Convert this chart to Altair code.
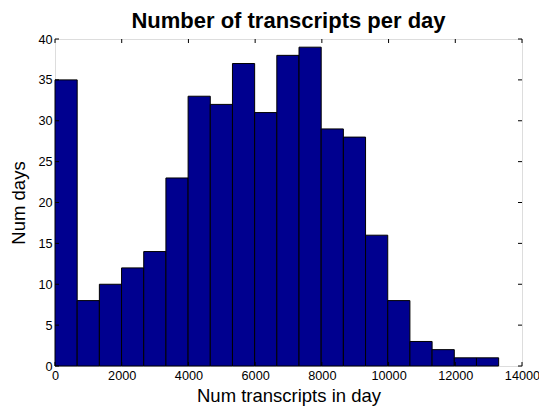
import altair as alt
import pandas as pd

# histogram data
counts = [35, 8, 10, 12, 14, 23, 33, 32, 37, 31, 38, 39, 29, 28, 16, 8, 3, 2, 1, 1]
bin_lo = [0, 665, 1330, 1995, 2660, 3325, 3990, 4655, 5320, 5985,
          6650, 7315, 7980, 8645, 9310, 9975, 10640, 11305, 11970, 12635]
bin_hi = [665, 1330, 1995, 2660, 3325, 3990, 4655, 5320, 5985, 6650,
          7315, 7980, 8645, 9310, 9975, 10640, 11305, 11970, 12635, 13300]
x_ticks = [0, 2000, 4000, 6000, 8000, 10000, 12000, 14000]
y_ticks = [0, 5, 10, 15, 20, 25, 30, 35, 40]

W, H = 467, 327
FONT = "Liberation Sans"

bars_df = pd.DataFrame({"lo": bin_lo, "hi": bin_hi, "n": counts})
xt_df = pd.DataFrame({"t": x_ticks})
yt_df = pd.DataFrame({"t": y_ticks})

xscale = alt.Scale(domain=[0, 14000], nice=False, zero=False)
yscale = alt.Scale(domain=[0, 40], nice=False)

bars = alt.Chart(bars_df).mark_rect(
    fill="#00008F", stroke="black", strokeWidth=1
).encode(
    x=alt.X("lo:Q", scale=xscale, title="Num transcripts in day",
            axis=alt.Axis(values=x_ticks, format="d", domain=False, ticks=False,
                          grid=False, labelFont=FONT, labelFontSize=12.7,
                          labelColor="black", labelPadding=3,
                          titleFont=FONT, titleFontSize=18.5, titleFontWeight="normal",
                          titleColor="black", titlePadding=5,
                          labelFlush=False)),
    x2="hi:Q",
    y=alt.Y("n:Q", scale=yscale, title="Num days",
            axis=alt.Axis(values=y_ticks, domain=False, ticks=False, grid=False,
                          labelFont=FONT, labelFontSize=12.7, labelColor="black",
                          labelPadding=3, titleFont=FONT, titleFontSize=18.5,
                          titleFontWeight="normal", titleColor="black",
                          titlePadding=9, labelFlush=False)),
    y2=alt.datum(0),
)

tl = 4
xb = alt.Chart(xt_df).mark_rule(color="black", strokeWidth=1).encode(
    x=alt.X("t:Q", scale=xscale), y=alt.value(H), y2=alt.value(H - tl))
xtop = alt.Chart(xt_df).mark_rule(color="black", strokeWidth=1).encode(
    x=alt.X("t:Q", scale=xscale), y=alt.value(0), y2=alt.value(tl))
yl = alt.Chart(yt_df).mark_rule(color="black", strokeWidth=1).encode(
    y=alt.Y("t:Q", scale=yscale), x=alt.value(0), x2=alt.value(tl))
yr = alt.Chart(yt_df).mark_rule(color="black", strokeWidth=1).encode(
    y=alt.Y("t:Q", scale=yscale), x=alt.value(W), x2=alt.value(W - tl))

chart = alt.layer(bars, xb, xtop, yl, yr).properties(
    width=W, height=H,
    title=alt.TitleParams("Number of transcripts per day", font=FONT,
                          fontSize=22, fontWeight="bold", color="black",
                          anchor="middle", frame="group", offset=0),
    autosize=alt.AutoSizeParams(type="none"),
    padding={"left": 47, "top": 31, "right": 17, "bottom": 40},
).configure_view(stroke="black", strokeWidth=1).configure(background="white")

chart.save("out.html", embed_options={"renderer": "svg", "actions": False})
